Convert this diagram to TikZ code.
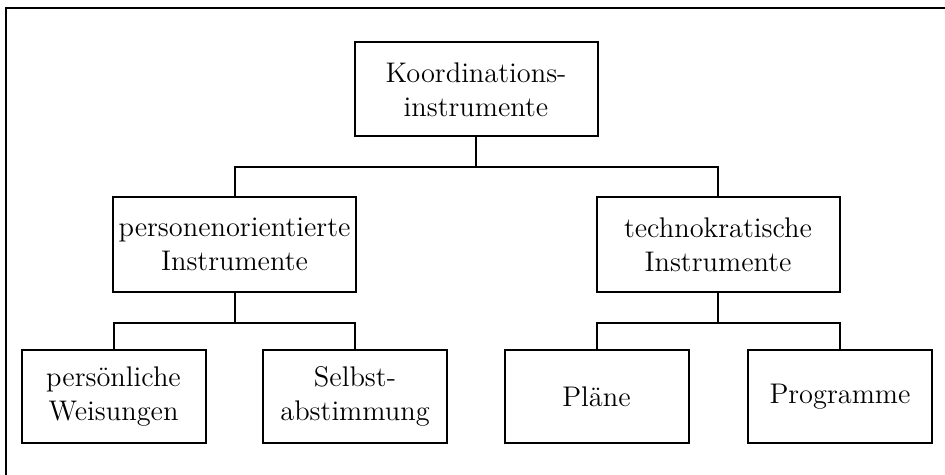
\documentclass[tikz,border=0pt]{standalone}
\usepackage{tikz}
\usetikzlibrary{positioning}

\begin{document}
\begin{tikzpicture}[x=0.5pt,y=-0.5pt,
  box/.style={draw,line width=1pt,align=center,inner sep=0pt,font=\fontsize{14.2}{17}\selectfont},
  wide/.style={box,minimum width=121.5pt,minimum height=47pt},
  leaf/.style={box,minimum width=92pt,minimum height=46.5pt},
  conn/.style={line width=1pt}]
\useasboundingbox (0,0) rectangle (945,475);
% frame, cut off at right and bottom
\draw[line width=1.2pt] (945,8) -- (6,8) -- (6,475);
% top level
\node[wide] (koord) at (476,89.5) {Koordinations-\\instrumente};
% second level
\node[wide] (pers) at (234.5,244.5) {personenorientierte\\Instrumente};
\node[wide] (tech) at (718,244.5) {technokratische\\Instrumente};
% third level
\node[leaf] (weis) at (113.5,396.5) {persönliche\\Weisungen};
\node[leaf] (selbst) at (355,396.5) {Selbst-\\abstimmung};
\node[leaf] (plaene) at (596.5,396.5) {Pläne};
\node[leaf] (progr) at (840,396.5) {Programme};
% tree connectors
\foreach \up/\dn in {koord/pers,koord/tech,pers/weis,pers/selbst,tech/plaene,tech/progr}
  \draw[conn] (\up.south) -- ++(0,30) -| (\dn.north);
\end{tikzpicture}
\end{document}
